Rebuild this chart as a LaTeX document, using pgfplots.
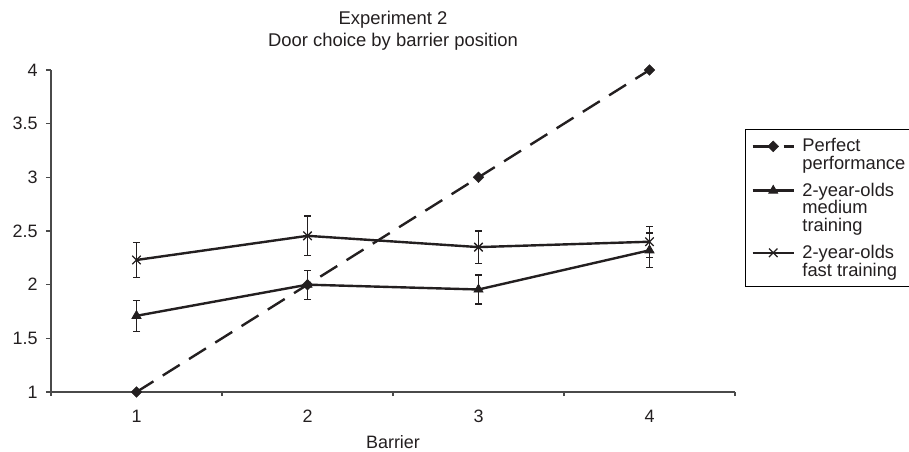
\documentclass[border=0pt]{standalone}
\usepackage{pgfplots}
\pgfplotsset{compat=1.18}
\usepackage{fontspec}
\setmainfont{Liberation Sans}
\definecolor{ink}{HTML}{231F20}
\definecolor{axisgray}{HTML}{4A4A4A}
\begin{document}
\begin{tikzpicture}
\useasboundingbox (0,0) rectangle (909bp,452bp);
\begin{axis}[
  at={(51bp,60bp)}, anchor=south west,
  scale only axis, width=684bp, height=322bp,
  xmin=0.5, xmax=4.5, ymin=1, ymax=4,
  clip=false,
  axis x line=bottom, axis y line=left,
  axis line style={-, draw=axisgray, line width=1.1bp},
  xtick={1,2,3,4}, xticklabels={1,2,3,4},
  major x tick style={draw=none},
  minor xtick={0.5,1.5,2.5,3.5,4.5},
  minor x tick style={draw=axisgray, line width=1.1bp},
  minor tick length=4bp,
  ytick={1,1.5,2,2.5,3,3.5,4},
  yticklabels={1,1.5,2,2.5,3,3.5,4},
  major tick length=5bp,
  tick align=outside,
  y tick style={draw=axisgray, line width=1.1bp},
  ticklabel style={font=\fontsize{18}{21}\selectfont, text=ink},
  xticklabel style={yshift=-9.5bp},
  yticklabel style={xshift=-5bp},
  title={Experiment 2\\Door choice by barrier position},
  title style={align=center, font=\fontsize{18.5}{22}\selectfont, text=ink, at={(0.5,1)}, anchor=south, yshift=10.5bp},
  xlabel={Barrier},
  xlabel style={font=\fontsize{18}{21}\selectfont, text=ink, at={(axis description cs:0.5,0)}, anchor=base, yshift=-56bp},
  legend cell align=left,
  legend style={at={(rel axis cs:1.0146,0.817)}, anchor=north west, draw=black,
    line width=1.1bp, font=\fontsize{18.4}{18}\selectfont, text=ink,
    nodes={align=left, inner sep=1.5bp, font=\fontsize{18.4}{18}\selectfont},
    row sep=8bp, column sep=6bp, inner xsep=6bp, inner ysep=7bp,
    cells={anchor=north west}},
  legend image code/.code={\draw[mark repeat=2,mark phase=2, yshift=-9.9bp] plot coordinates {(0bp,0bp)(20.5bp,0bp)(41bp,0bp)};},
]
\addplot[ink, line width=2.4bp, dash pattern=on 20bp off 11bp, mark=square*, mark size=3.8bp, mark options={solid, rotate=45, line width=0.4bp}]
  coordinates {(1,1) (2,2) (3,3) (4,4)};
\addlegendentry{Perfect\\performance}
\addplot[ink, line width=2.4bp, mark=triangle*, mark size=5.2bp, mark options={line width=0.8bp},
  error bars/.cd, y dir=both, y explicit,
  error bar style={line width=1.3bp, solid},
  error mark options={rotate=90, mark size=3.5bp, line width=1.3bp}]
  coordinates {(1,1.71) +- (0,0.145) (2,2.0) +- (0,0.135) (3,1.955) +- (0,0.135) (4,2.32) +- (0,0.16)};
\addlegendentry{2-year-olds\\medium\\training}
\addplot[ink, line width=2.4bp, mark=x, mark size=6bp, mark options={line width=1.3bp},
  error bars/.cd, y dir=both, y explicit,
  error bar style={line width=1.3bp, solid},
  error mark options={rotate=90, mark size=3.5bp, line width=1.3bp}]
  coordinates {(1,2.23) +- (0,0.16) (2,2.455) +- (0,0.185) (3,2.35) +- (0,0.15) (4,2.40) +- (0,0.145)};
\addlegendentry{2-year-olds\\fast training}
\end{axis}
\end{tikzpicture}
\end{document}
